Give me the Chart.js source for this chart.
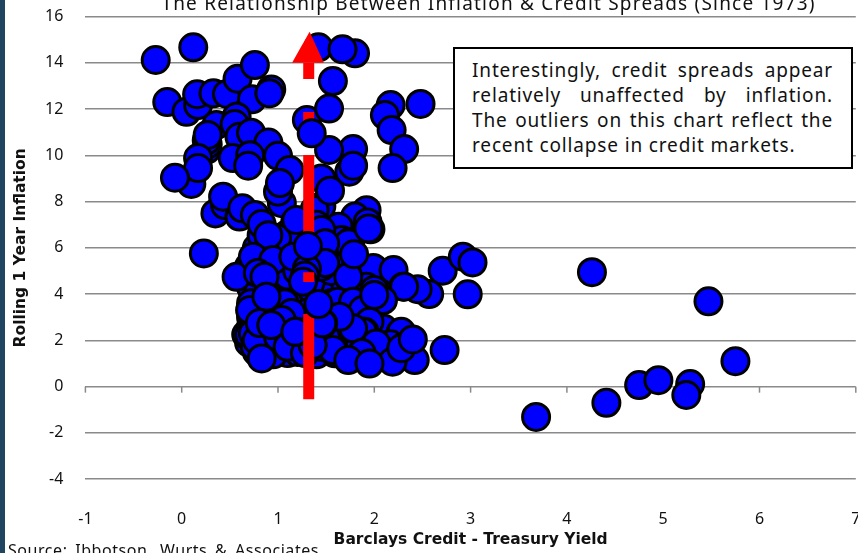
<!DOCTYPE html>
<html>
<head>
<meta charset="utf-8">
<title>Inflation and Credit Spreads</title>
<script src="https://cdn.jsdelivr.net/npm/chart.js@4"></script>
<style>
  html, body { margin: 0; padding: 0; background: #fff; overflow: hidden; }
  #strip { position: absolute; left: 0; top: 0; width: 5px; height: 553px; background: #1f4560; }
  #wrap { position: absolute; left: 0; top: 0; width: 858px; height: 553px; }
  #note {
    position: absolute; left: 453px; top: 47px; width: 396px; height: 118px;
    border: 2px solid #000; background: #fff; box-sizing: content-box;
    font: 19px/25px "Noto Sans", sans-serif; letter-spacing: 0.85px; color: #111;
  }
  #note div { margin: 0 18px 0 17px; text-align: justify; text-align-last: justify; white-space: nowrap; }
  #note div:first-child { margin-top: 9px; }
  #note div:last-child { text-align-last: left; }
</style>
</head>
<body>
<div id="strip"></div>
<div id="wrap"><canvas id="chart" width="858" height="553"></canvas></div>
<div id="note">
  <div>Interestingly, credit spreads appear</div>
  <div>relatively unaffected by inflation.</div>
  <div>The outliers on this chart reflect the</div>
  <div>recent collapse in credit markets.</div>
</div>
<script>
const FONT = '"Noto Sans", sans-serif';

// Months drawn underneath the red arrow, later entries paint over earlier ones
const spreadUnder = [
  -0.27, 0.12, -0.15, 0.05, 0.17, 0.16, 0.33, 0.47, 0.58, 0.76, 0.73, 0.93, 0.91, 1.30,
  1.42, 1.80, 1.67, 1.57, 1.53, 2.17, 2.11, 2.18, 2.48, 2.31, 2.19, 1.78, 1.74, 1.78,
  0.36, 0.26, 0.27, 0.26, 0.27, 0.57, 0.55, 0.60, 0.72, 0.90, 1.00, 1.12, 0.53, 0.71, 0.69,
  0.17, 0.10, 0.17, -0.07, 0.35, 0.45, 0.43, 0.60, 0.63, 0.76,
  1.04, 1.00, 1.02, 1.45, 1.38, 1.45, 1.53, 1.54, 1.18,
  0.95, 1.05, 1.15, 1.25, 1.35, 1.50, 1.60, 1.70, 1.85, 1.55, 1.30, 1.20, 1.10, 0.95, 0.85, 0.75, 0.72, 0.80,
  1.00, 1.10, 1.20, 1.30, 1.40, 1.60, 1.70, 1.85, 2.00, 2.10, 1.55, 1.25, 0.90, 0.95, 0.78, 0.70,
  0.95, 1.05, 1.10, 1.20, 1.30, 1.55, 1.65, 1.80, 1.90, 2.05, 1.05, 1.10, 1.30, 1.40, 1.55, 1.15,
  0.70, 0.65, 0.72, 0.80, 0.72, 0.72, 2.10, 2.15,
  0.99, 0.78, 0.83, 0.83, 0.90, 1.19, 0.23,
  1.92, 1.80, 1.93, 1.96, 1.63, 1.59, 1.66, 1.75, 1.73, 1.94,
  0.57, 0.74, 0.95, 1.16, 0.79, 0.86, 1.45, 1.49, 1.45, 1.49,
  1.99, 2.20, 2.30, 2.71, 2.92, 3.02, 2.97, 2.57, 2.45, 2.31, 1.92, 2.00, 1.73,
  4.26, 5.47, 5.75, 3.68, 4.41, 4.75, 4.95, 5.28, 5.24,
  1.62, 1.78, 1.88, 2.09, 2.00, 1.95, 1.90, 1.88, 1.76, 1.78, 1.64, 1.47, 1.45,
  2.27, 2.28, 2.16, 2.17, 2.02, 2.42, 2.19, 2.73, 2.28, 2.40,
  1.87, 1.59, 1.57, 1.73, 1.95,
  0.67, 0.70, 0.71, 0.74, 0.76, 0.78, 0.83, 1.07, 1.14, 1.04, 1.00, 1.10, 1.28, 1.36, 1.36,
  1.30, 1.28, 1.26, 1.46, 1.19,
  0.88, 0.81, 0.93, 1.18, 1.79
];
const inflationUnder = [
  14.12, 14.67, 12.30, 11.88, 12.17, 12.64, 12.68, 12.65, 13.31, 13.90, 12.42, 12.85, 12.68, 11.53,
  14.67, 14.41, 14.58, 13.21, 12.02, 12.17, 11.74, 11.09, 12.22, 10.27, 9.45, 10.27, 9.29, 9.55,
  11.31, 10.25, 10.48, 10.65, 10.88, 11.67, 11.35, 10.80, 10.98, 10.55, 9.98, 9.36, 9.88, 10.00, 9.55,
  9.88, 8.76, 9.45, 9.03, 7.49, 7.85, 8.21, 7.35, 7.71, 7.42,
  7.93, 8.43, 8.80, 7.80, 7.64, 9.00, 10.23, 8.47, 7.13,
  4.20, 4.40, 4.10, 3.90, 4.20, 4.30, 4.10, 4.40, 4.60, 3.60, 3.20, 2.90, 2.40, 3.30, 3.00, 2.90, 2.60, 3.50,
  1.70, 1.45, 1.50, 1.70, 1.40, 1.90, 2.00, 1.90, 2.20, 2.50, 2.60, 2.20, 1.60, 1.40, 1.50, 1.90,
  5.00, 5.30, 4.80, 5.00, 5.60, 5.00, 5.40, 5.10, 4.80, 4.70, 6.00, 6.60, 6.60, 7.00, 6.70, 6.30,
  5.20, 4.90, 4.30, 4.30, 3.60, 3.00, 4.10, 4.55,
  6.42, 5.99, 6.55, 7.03, 6.55, 7.20, 5.76,
  7.63, 7.35, 7.10, 6.80, 6.91, 6.26, 6.34, 6.26, 6.20, 6.84,
  4.75, 5.62, 5.47, 5.62, 4.91, 4.75, 6.77, 6.20, 5.18, 5.34,
  5.13, 5.04, 4.32, 5.01, 5.62, 5.37, 3.99, 4.00, 4.21, 4.32, 4.32, 4.18, 4.75,
  4.95, 3.69, 1.10, -1.31, -0.70, 0.07, 0.28, 0.11, -0.36,
  3.67, 3.67, 3.31, 3.74, 3.96, 2.81, 2.37, 2.37, 2.52, 2.52, 3.02, 2.74, 1.72,
  2.32, 2.37, 1.80, 1.83, 1.87, 1.15, 1.08, 1.58, 1.66, 2.04,
  1.45, 1.44, 1.58, 1.15, 1.00,
  2.25, 2.23, 3.31, 2.31, 1.72, 2.01, 1.22, 3.60, 3.18, 2.88, 2.16, 1.72, 1.45, 2.53, 1.80,
  5.10, 4.80, 4.54, 2.74, 2.37,
  3.89, 2.75, 2.66, 2.37, 5.72
];

// Red arrow shaft, one dash per null-separated run, at a constant spread
const arrowX = [1.319, 1.319, null, 1.319, 1.319, null, 1.319, 1.319, null, 1.319, 1.319, null, 1.319, 1.319];
const arrowY = [-0.54, 3.14, null, 4.52, 4.95, null, 6.34, 10.01, null, 10.7, 11.87, null, 13.30, 14.0];
const arrowHeadX = [1.146, 1.328, 1.475];
const arrowHeadY = [14.0, 15.34, 14.0];

// Months drawn on top of the red arrow
const spreadOver = [1.35, 1.31, 1.42];
const inflationOver = [10.95, 6.08, 3.57];

const yTicks = [16, 14, 12, 10, 8, 6, 4, 2, 0, -2, -4];
const xTicks = [-1, 0, 1, 2, 3, 4, 5, 6, 7];

const toPoints = (xs, ys) => xs.map((x, i) => ({ x, y: ys[i] }));

const circleStyle = {
  type: "scatter",
  pointRadius: 13.5,
  pointHoverRadius: 13.5,
  pointBackgroundColor: "#0000ff",
  pointBorderColor: "#000000",
  pointBorderWidth: 3,
  showLine: false,
  clip: false,
};

// The plot box is fixed, so labels hanging past it must not push it inwards
const fixBox = (axis, size) => {
  axis[axis.isHorizontal() ? "height" : "width"] = size;
  axis.paddingLeft = axis.paddingRight = axis.paddingTop = axis.paddingBottom = 0;
};

// Tick marks hang off the zero line, and the two cropped text lines sit on the canvas edges
const extras = {
  id: "extras",
  beforeDatasetsDraw(chart) {
    const { ctx, scales } = chart;
    const zero = scales.y.getPixelForValue(0);
    ctx.save();
    ctx.strokeStyle = "#8a8a8a";
    ctx.lineWidth = 1.5;
    xTicks.forEach((t) => {
      const px = scales.x.getPixelForValue(t);
      ctx.beginPath();
      ctx.moveTo(px, zero);
      ctx.lineTo(px, zero + 6);
      ctx.stroke();
    });
    ctx.restore();
  },
  afterDraw(chart) {
    const { ctx } = chart;
    ctx.save();
    ctx.fillStyle = "#111";
    ctx.font = "19px " + FONT;
    ctx.letterSpacing = "1.2px";
    ctx.textBaseline = "alphabetic";
    ctx.textAlign = "center";
    ctx.fillText("The Relationship Between Inflation & Credit Spreads (Since 1973)", 488.5, 10);
    ctx.textAlign = "left";
    ctx.letterSpacing = "0.55px";
    ctx.font = "16px " + FONT;
    ctx.wordSpacing = "3px";
    ctx.fillText("Source: Ibbotson, Wurts & Associates", 8, 556);
    ctx.restore();
  },
};

new Chart(document.getElementById("chart"), {
  type: "scatter",
  data: {
    datasets: [
      { ...circleStyle, data: toPoints(spreadUnder, inflationUnder), order: 3 },
      {
        type: "line",
        data: toPoints(arrowX, arrowY),
        borderColor: "#ff0000",
        borderWidth: 11,
        borderCapStyle: "butt",
        pointRadius: 0,
        spanGaps: false,
        order: 2,
      },
      {
        type: "line",
        data: toPoints(arrowHeadX, arrowHeadY),
        borderWidth: 0,
        backgroundColor: "#ff0000",
        fill: "shape",
        tension: 0,
        pointRadius: 0,
        order: 2,
      },
      { ...circleStyle, data: toPoints(spreadOver, inflationOver), order: 1 },
    ],
  },
  options: {
    responsive: false,
    animation: false,
    events: [],
    layout: { autoPadding: false, padding: { top: 16.5, right: 2.2, left: 0, bottom: 0 } },
    plugins: { legend: { display: false }, tooltip: { enabled: false } },
    scales: {
      x: {
        type: "linear",
        min: xTicks[0],
        max: xTicks[xTicks.length - 1],
        afterFit: (axis) => fixBox(axis, 73.8),
        afterBuildTicks: (axis) => { axis.ticks = xTicks.map((value) => ({ value })); },
        grid: { display: false },
        border: { display: false },
        ticks: {
          autoSkip: false,
          maxRotation: 0,
          padding: 23,
          color: "#111",
          font: { family: FONT, size: 16 },
        },
        title: {
          display: true,
          text: "Barclays Credit - Treasury Yield",
          color: "#111",
          font: { family: '"DejaVu Sans", sans-serif', size: 15.5, weight: "bold" },
          padding: { top: 0, bottom: 4 },
        },
      },
      y: {
        type: "linear",
        min: -4,
        max: 16,
        afterFit: (axis) => fixBox(axis, 85.4),
        afterBuildTicks: (axis) => { axis.ticks = yTicks.map((value) => ({ value })); },
        grid: { color: "#8a8a8a", lineWidth: 1.6, drawTicks: false },
        border: { display: false },
        ticks: {
          padding: 22,
          color: "#111",
          font: { family: FONT, size: 16 },
        },
        title: {
          display: true,
          text: "Rolling 1 Year Inflation",
          color: "#111",
          font: { family: '"DejaVu Sans", sans-serif', size: 15.5, weight: "bold" },
          padding: { top: 12, bottom: 0 },
        },
      },
    },
  },
  plugins: [extras],
});
</script>
</body>
</html>
